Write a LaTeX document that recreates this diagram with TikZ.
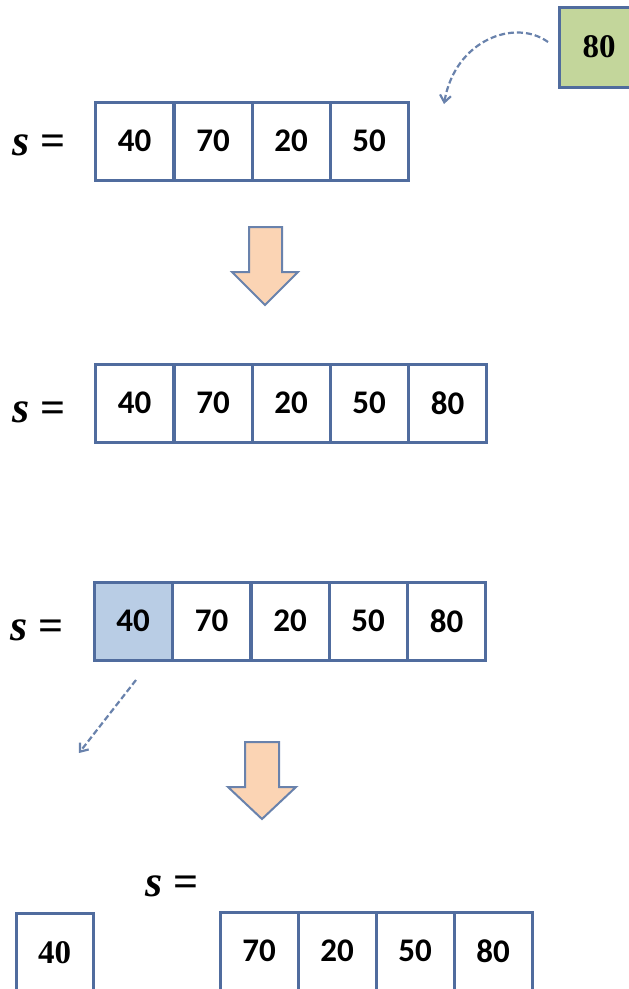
\documentclass[tikz,border=0pt]{standalone}
\usepackage{fontspec}
\setmainfont{Liberation Serif}
\newfontfamily\cellfont{Carlito}
\usetikzlibrary{arrows.meta}
\definecolor{boxblue}{RGB}{80,108,158}
\definecolor{cellfill}{RGB}{185,205,229}
\definecolor{greenfill}{RGB}{195,214,155}
\definecolor{peach}{RGB}{251,212,180}
\definecolor{arrowline}{RGB}{105,130,172}
\tikzset{
  cell/.style={draw=boxblue, line width=3pt, minimum width=78pt, minimum height=78pt, inner sep=0pt, font=\cellfont\bfseries\fontsize{33}{33}\selectfont, text=black},
  serifcell/.style={cell, font=\bfseries\fontsize{33}{33}\selectfont},
  slabel/.style={font=\bfseries\fontsize{44}{44}\selectfont, inner sep=0pt},
  downarrow/.style={draw=arrowline, line width=2pt, fill=peach, line join=miter},
  dasharrow/.style={draw=arrowline, line width=2.2pt, dash pattern=on 6pt off 3pt, -{Straight Barb[length=7pt,width=11pt]}}
}
\begin{document}
\begin{tikzpicture}[x=1pt,y=-1pt]
\useasboundingbox (0,0) rectangle (629,989);
\clip (0,0) rectangle (629,989);
% top: new element
\node[serifcell, fill=greenfill, minimum width=80pt, minimum height=80pt] (new) at (599,47) {80};
\coordinate (c1s) at (548,42);
\coordinate (c1e) at (444,104);
\draw[dasharrow] (c1s) .. controls (515,18) and (455,40) .. (c1e);
% array 1
\node[slabel] (s1) at (39,145) {\textit{s} =};
\node[cell] (a11) at (134.5,141) {40};
\node[cell] (a12) at (213,141) {70};
\node[cell] (a13) at (291,141) {20};
\node[cell] (a14) at (369,141) {50};
% down arrow 1
\draw[downarrow] (249,227) -- (282,227) -- (282,272) -- (298,272) -- (265,305) -- (232,272) -- (249,272) -- cycle;
% array 2
\node[slabel] (s2) at (39,412) {\textit{s} =};
\node[cell] (a21) at (134.5,403) {40};
\node[cell] (a22) at (213,403) {70};
\node[cell] (a23) at (291,403) {20};
\node[cell] (a24) at (369,403) {50};
\node[cell] (a25) at (447.5,403) {80};
% array 3
\node[slabel] (s3) at (37,630) {\textit{s} =};
\node[cell, fill=cellfill] (a31) at (133,621) {40};
\node[cell] (a32) at (211.5,621) {70};
\node[cell] (a33) at (290,621) {20};
\node[cell] (a34) at (368,621) {50};
\node[cell] (a35) at (446.5,621) {80};
\coordinate (d1s) at (136,680);
\coordinate (d1e) at (79,753);
\draw[dasharrow] (d1s) -- (d1e);
% down arrow 2
\draw[downarrow] (245,742) -- (279,742) -- (279,787) -- (296,787) -- (262,819) -- (228,787) -- (245,787) -- cycle;
% bottom
\node[slabel] (s4) at (172,886) {\textit{s} =};
\node[serifcell, minimum width=77pt, minimum height=80pt] (removed) at (54.5,953) {40};
\node[cell] (a41) at (259,951) {70};
\node[cell] (a42) at (337,951) {20};
\node[cell] (a43) at (415,951) {50};
\node[cell] (a44) at (493,951) {80};
\end{tikzpicture}
\end{document}
